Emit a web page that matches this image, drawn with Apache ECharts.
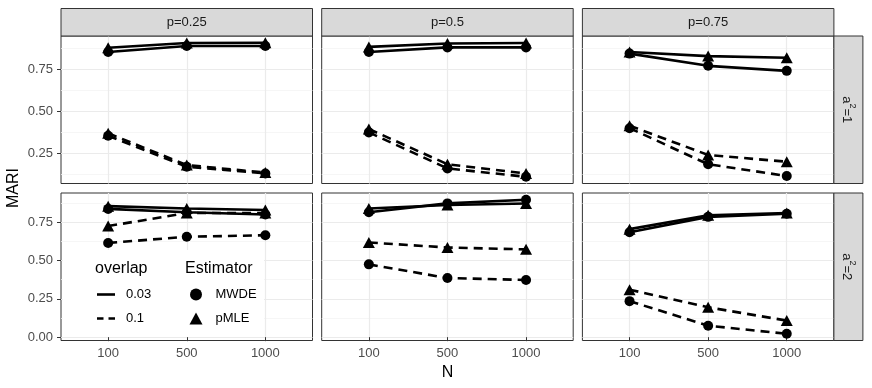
<!DOCTYPE html>
<html>
<head>
<meta charset="utf-8">
<script src="https://cdn.jsdelivr.net/npm/echarts@6/dist/echarts.min.js"></script>
<style>
html, body { margin: 0; padding: 0; background: #fff; }
#main { width: 872px; height: 388px; }
</style>
</head>
<body>
<div id="main"></div>
<script>
// x categories, facet labels, y ticks
var N = ['100', '500', '1000'];
var pLabels = ['p=0.25', 'p=0.5', 'p=0.75'];
var aLabels = ['1', '2'];
var yTicks = [0, 0.25, 0.5, 0.75];
var yMinor = [0.125, 0.375, 0.625, 0.875];

// MARI values, one inner array per p column (0.25, 0.5, 0.75)
// a^2 = 1
var mwde003_a1 = [[0.855, 0.89, 0.89], [0.855, 0.882, 0.882], [0.845, 0.772, 0.742]];
var pmle003_a1 = [[0.88, 0.908, 0.91], [0.885, 0.905, 0.908], [0.855, 0.83, 0.82]];
var mwde01_a1 = [[0.355, 0.17, 0.13], [0.375, 0.16, 0.11], [0.40, 0.185, 0.115]];
var pmle01_a1 = [[0.37, 0.18, 0.135], [0.395, 0.185, 0.13], [0.415, 0.24, 0.20]];
// a^2 = 2
var mwde003_a2 = [[0.837, 0.815, 0.80], [0.815, 0.873, 0.897], [0.685, 0.785, 0.805]];
var pmle003_a2 = [[0.855, 0.84, 0.83], [0.84, 0.862, 0.872], [0.705, 0.795, 0.81]];
var mwde01_a2 = [[0.615, 0.655, 0.665], [0.475, 0.386, 0.373], [0.235, 0.075, 0.022]];
var pmle01_a2 = [[0.725, 0.81, 0.81], [0.618, 0.585, 0.573], [0.31, 0.195, 0.108]];

var rows = [
  [mwde003_a1, pmle003_a1, mwde01_a1, pmle01_a1],
  [mwde003_a2, pmle003_a2, mwde01_a2, pmle01_a2]
];
var est = ['MWDE', 'pMLE', 'MWDE', 'pMLE'];
var ovl = ['0.03', '0.03', '0.1', '0.1'];

// layout
var gLeft = 61, gStep = 260.7, gW = 251.5;
var gTop = [36, 193], gH = 147.5;
var stripTop = 8.5;
var font = 'Liberation Sans';

// free y scale per row, 5% expansion like ggplot
function rowRange(r) {
  var all = [];
  rows[r].forEach(function (s) { s.forEach(function (p) { all = all.concat(p); }); });
  var lo = Math.min.apply(null, all), hi = Math.max.apply(null, all);
  var pad = (hi - lo) * 0.05;
  return [lo - pad, hi + pad];
}

var grids = [], xAxes = [], yAxes = [], series = [], graphics = [];

for (var r = 0; r < 2; r++) {
  var rng = rowRange(r);
  for (var c = 0; c < 3; c++) {
    var g = r * 3 + c;
    grids.push({
      left: gLeft + c * gStep, top: gTop[r], width: gW, height: gH,
      show: true, backgroundColor: '#fff', borderColor: '#333', borderWidth: 1
    });
    xAxes.push({
      type: 'value', gridIndex: g, min: 0.4, max: 3.6,
      name: (r === 1 && c === 1) ? 'N' : '',
      nameLocation: 'middle', nameGap: 24,
      nameTextStyle: { fontSize: 16, color: '#000', fontFamily: font },
      axisLine: { show: false },
      axisTick: { show: r === 1, length: 4, customValues: [1, 2, 3], lineStyle: { color: '#333' } },
      axisLabel: {
        show: r === 1, customValues: [1, 2, 3], margin: 6,
        fontSize: 13, color: '#4D4D4D', fontFamily: font,
        formatter: function (v) { return N[Math.round(v) - 1]; }
      },
      splitLine: { show: true, lineStyle: { color: '#EBEBEB', width: 1.2 } }
    });
    yAxes.push({
      type: 'value', gridIndex: g, min: rng[0], max: rng[1],
      axisLine: { show: false },
      axisTick: { show: c === 0, length: 4, customValues: yTicks, lineStyle: { color: '#333' } },
      axisLabel: {
        show: c === 0, customValues: yTicks, margin: 8,
        fontSize: 13, color: '#4D4D4D', fontFamily: font,
        formatter: function (v) { return v.toFixed(2); }
      },
      splitLine: { show: true, lineStyle: { color: '#EBEBEB', width: 1.2 } }
    });
    yAxes.push({
      type: 'value', gridIndex: g, min: rng[0], max: rng[1],
      axisLine: { show: false },
      axisTick: { show: false, customValues: yMinor },
      axisLabel: { show: false },
      splitLine: { show: true, lineStyle: { color: '#F4F4F4', width: 0.8 } }
    });
    for (var s = 0; s < 4; s++) {
      var vals = rows[r][s][c];
      series.push({
        name: pLabels[c] + ' a' + aLabels[r] + ' ' + est[s] + ' ' + ovl[s],
        type: 'line', xAxisIndex: g, yAxisIndex: g * 2,
        data: vals.map(function (v, k) { return [k + 1, v]; }),
        symbol: est[s] === 'MWDE' ? 'circle' : 'triangle',
        symbolSize: est[s] === 'MWDE' ? 10 : [12, 11],
        itemStyle: { color: '#000' },
        lineStyle: { color: '#000', width: 2.6, type: ovl[s] === '0.03' ? 'solid' : [9, 6] },
        silent: true
      });
    }
    // top strip
    if (r === 0) {
      graphics.push({
        type: 'rect', z: 5,
        shape: { x: gLeft + c * gStep, y: stripTop, width: gW, height: gTop[0] - stripTop },
        style: { fill: '#D9D9D9', stroke: '#333', lineWidth: 1 }
      });
      graphics.push({
        type: 'text', z: 6,
        x: gLeft + c * gStep + gW / 2, y: (stripTop + gTop[0]) / 2,
        style: { text: pLabels[c], fill: '#1A1A1A', font: '13px ' + font, align: 'center', verticalAlign: 'middle' }
      });
    }
  }
  // right strip
  var sx = gLeft + 2 * gStep + gW;
  graphics.push({
    type: 'rect', z: 5,
    shape: { x: sx, y: gTop[r], width: 29, height: gH },
    style: { fill: '#D9D9D9', stroke: '#333', lineWidth: 1 }
  });
  graphics.push({
    type: 'text', z: 6, x: sx + 14.5, y: gTop[r] + gH / 2, rotation: -Math.PI / 2,
    style: {
      text: '{a|a}{s|2}{a|=' + aLabels[r] + '}',
      align: 'center', verticalAlign: 'middle', fill: '#1A1A1A',
      rich: {
        a: { fontSize: 13, fontFamily: font, color: '#1A1A1A', lineHeight: 17, verticalAlign: 'bottom' },
        s: { fontSize: 9, fontFamily: font, color: '#1A1A1A', lineHeight: 17, verticalAlign: 'top' }
      }
    }
  });
}

// legend-only series
series.push(
  { name: '0.03', type: 'line', data: [], symbol: 'none', itemStyle: { color: '#000' }, lineStyle: { color: '#000', width: 2.6 } },
  { name: '0.1', type: 'line', data: [], symbol: 'none', itemStyle: { color: '#000' }, lineStyle: { color: '#000', width: 2.6, type: [6.5, 5] } },
  { name: 'MWDE', type: 'line', data: [], symbol: 'circle', itemStyle: { color: '#000' }, lineStyle: { width: 0 } },
  { name: 'pMLE', type: 'line', data: [], symbol: 'triangle', itemStyle: { color: '#000' }, lineStyle: { width: 0 } }
);

// legend background and titles
graphics.push(
  { type: 'rect', z: 1, shape: { x: 63, y: 250, width: 201, height: 87 }, style: { fill: '#fff' } },
  { type: 'text', z: 6, x: 95, y: 269, style: { text: 'overlap', fill: '#000', font: '16px ' + font, verticalAlign: 'middle' } },
  { type: 'text', z: 6, x: 185, y: 269, style: { text: 'Estimator', fill: '#000', font: '16px ' + font, verticalAlign: 'middle' } },
  { type: 'text', z: 6, x: 14, y: 188, rotation: Math.PI / 2,
    style: { text: 'MARI', fill: '#000', font: '16px ' + font, align: 'center', verticalAlign: 'middle' } }
);

var legendText = { fontSize: 13, color: '#000', fontFamily: font };
var solidKey = 'path://M0,0h18v2.6h-18z';
var dashKey = 'path://M0,0h6.5v2.6h-6.5z M11.5,0h6.5v2.6h-6.5z';

var chart = echarts.init(document.getElementById('main'));
chart.setOption({
  animation: false,
  backgroundColor: '#fff',
  textStyle: { fontFamily: font },
  grid: grids,
  xAxis: xAxes,
  yAxis: yAxes,
  legend: [
    {
      data: [{ name: '0.03', icon: solidKey }, { name: '0.1', icon: dashKey }],
      orient: 'vertical', left: 97, top: 288, padding: 0,
      itemWidth: 18, itemHeight: 12, itemGap: 11, selectedMode: false,
      textStyle: Object.assign({ padding: [0, 0, 0, 6] }, legendText)
    },
    {
      data: [{ name: 'MWDE', icon: 'circle' }, { name: 'pMLE', icon: 'triangle' }],
      orient: 'vertical', left: 189.5, top: 288, padding: 0,
      itemWidth: 13, itemHeight: 12, itemGap: 11, selectedMode: false,
      textStyle: Object.assign({ padding: [0, 0, 0, 8] }, legendText)
    }
  ],
  graphic: graphics,
  series: series
});
</script>
</body>
</html>
